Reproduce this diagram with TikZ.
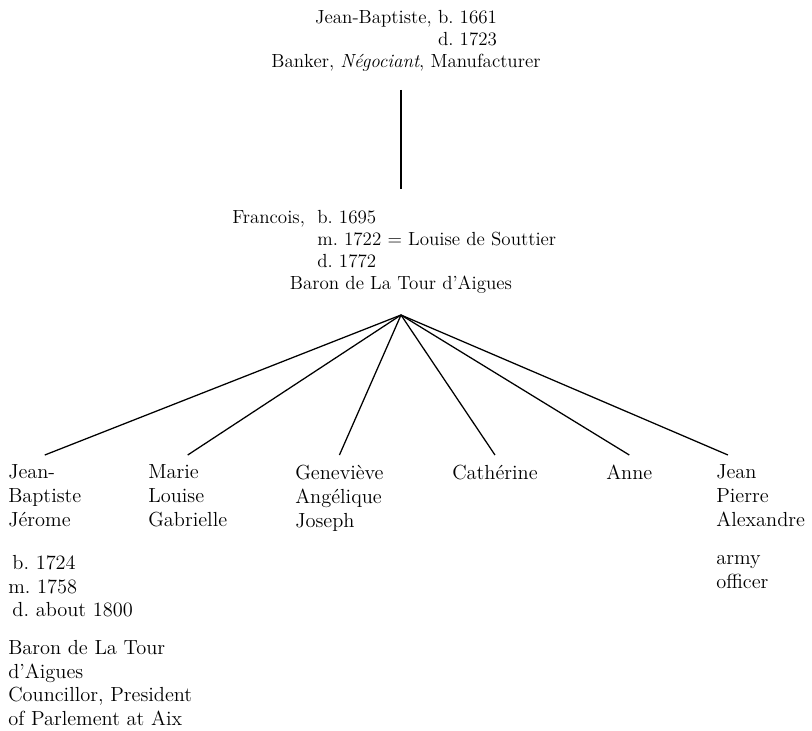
\documentclass[tikz,border=0pt]{standalone}
\usepackage{fontspec}
\begin{document}
\begin{tikzpicture}[
  x=0.025cm, y=-0.025cm,
  every node/.style={font=\fontsize{13.5}{15.65}\selectfont\addfontfeatures{LetterSpace=10}, inner sep=0pt},
  head/.style={align=center, anchor=north},
  line/.style={align=left, anchor=north west},
  kid/.style={align=left, anchor=north west, outer ysep=7pt,
    font=\fontsize{14.5}{17.07}\selectfont\addfontfeatures{LetterSpace=10}},
  note/.style={align=left, anchor=north west,
    font=\fontsize{14.5}{16.8}\selectfont\addfontfeatures{LetterSpace=10}},
  trunk/.style={line width=1.2pt},
  branch/.style={line width=0.9pt}
]
\useasboundingbox (0,0) rectangle (812,731);

% founder
\node [head] (jb) at (406,10) {Jean-Baptiste, b.~1661\\
  \hphantom{Jean-Baptiste, b.~1661}\llap{d.~1723}\\
  Banker, \textit{Négociant}, Manufacturer};

% son
\node [line] (fr) at (232,210) {Francois,\ \ b.~1695\\
  \phantom{Francois,\ \ }m.~1722 = Louise de Souttier\\
  \phantom{Francois,\ \ }d.~1772};
\node [anchor=north] (frb) at (401,276) {Baron de La Tour d'Aigues};

\coordinate (apex) at (401,315);
\draw [trunk, shorten <=13pt, shorten >=15pt] (jb.south -| apex) -- (fr.north -| apex);

% children
\node [kid] (c1) at (8,455) {Jean-\\Baptiste\\Jérome};
\node [kid] (c2) at (148,455) {Marie\\Louise\\Gabrielle};
\node [kid] (c3) at (295,455) {Geneviève\\Angélique\\Joseph};
\node [kid] (c4) at (452,455) {Cathérine};
\node [kid] (c5) at (606,455) {Anne};
\node [kid] (c6) at (716,455) {Jean\\Pierre\\Alexandre};

\node [note] (c1d) at (8,555) {\hspace*{3pt}b.~1724\\m.~1758\\\hspace*{3pt}d.~about 1800};
\node [note] (c1t) at (8,640) {Baron de La Tour\\d'Aigues\\Councillor, President\\of Parlement at Aix};
\node [note] (c6t) at (716,555) {army\\officer};

\foreach \k in {c1,c2,c3,c4,c5}
  \draw [branch] (apex) -- (\k.north);
\draw [branch] (apex) -- ([xshift=8.5pt]c6.north west);
\end{tikzpicture}
\end{document}
